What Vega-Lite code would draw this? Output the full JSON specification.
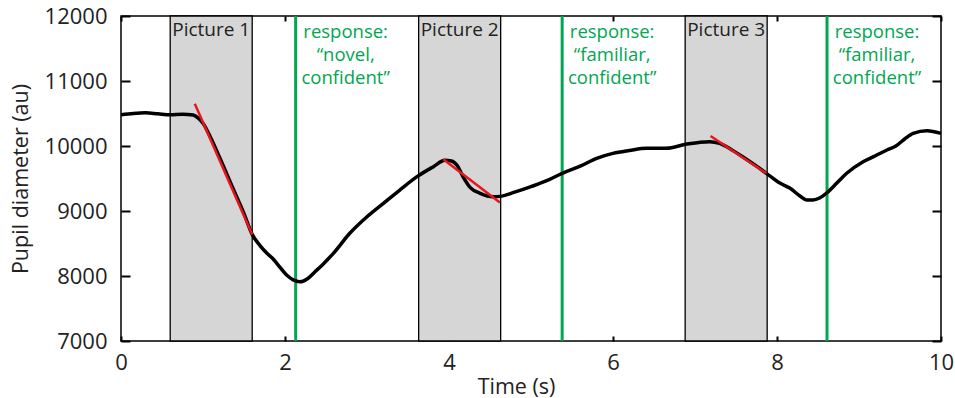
{
  "$schema": "https://vega.github.io/schema/vega-lite/v6.json",
  "width": 820,
  "height": 325,
  "autosize": "none",
  "padding": {"left": 121, "top": 16, "right": 14, "bottom": 57},
  "background": "white",
  "config": {
    "font": "Open Sans",
    "view": {"stroke": "black", "strokeWidth": 1.5},
    "axis": {"grid": false, "domain": false, "labelFlush": false, "labelFont": "Open Sans", "titleFont": "Open Sans", "labelColor": "#222", "titleColor": "#222", "tickColor": "black", "tickWidth": 2}
  },
  "datasets": {
    "curve": [
      {"t": 0.00, "v": 10480}, {"t": 0.15, "v": 10500}, {"t": 0.30, "v": 10510}, {"t": 0.45, "v": 10495},
      {"t": 0.60, "v": 10480}, {"t": 0.75, "v": 10490}, {"t": 0.88, "v": 10477}, {"t": 0.95, "v": 10420},
      {"t": 1.00, "v": 10350}, {"t": 1.10, "v": 10110}, {"t": 1.20, "v": 9830}, {"t": 1.30, "v": 9540},
      {"t": 1.40, "v": 9250}, {"t": 1.50, "v": 8960}, {"t": 1.60, "v": 8640}, {"t": 1.70, "v": 8460},
      {"t": 1.78, "v": 8350}, {"t": 1.85, "v": 8270}, {"t": 1.90, "v": 8195}, {"t": 2.02, "v": 8015},
      {"t": 2.10, "v": 7940}, {"t": 2.18, "v": 7910}, {"t": 2.27, "v": 7955}, {"t": 2.37, "v": 8070},
      {"t": 2.47, "v": 8190}, {"t": 2.59, "v": 8349}, {"t": 2.79, "v": 8657}, {"t": 3.00, "v": 8912},
      {"t": 3.20, "v": 9118}, {"t": 3.40, "v": 9323}, {"t": 3.61, "v": 9528}, {"t": 3.81, "v": 9682},
      {"t": 3.95, "v": 9780}, {"t": 4.03, "v": 9770}, {"t": 4.10, "v": 9700},
      {"t": 4.17, "v": 9530}, {"t": 4.26, "v": 9360}, {"t": 4.38, "v": 9272}, {"t": 4.54, "v": 9220},
      {"t": 4.62, "v": 9225}, {"t": 4.80, "v": 9290}, {"t": 5.00, "v": 9375}, {"t": 5.20, "v": 9470},
      {"t": 5.38, "v": 9580}, {"t": 5.60, "v": 9690}, {"t": 5.80, "v": 9810}, {"t": 6.00, "v": 9887},
      {"t": 6.20, "v": 9930}, {"t": 6.41, "v": 9964}, {"t": 6.65, "v": 9964}, {"t": 6.90, "v": 10030},
      {"t": 7.05, "v": 10055}, {"t": 7.18, "v": 10066}, {"t": 7.30, "v": 10040}, {"t": 7.45, "v": 9940},
      {"t": 7.60, "v": 9820}, {"t": 7.75, "v": 9690}, {"t": 7.87, "v": 9580}, {"t": 8.04, "v": 9426},
      {"t": 8.16, "v": 9349}, {"t": 8.28, "v": 9230}, {"t": 8.36, "v": 9170}, {"t": 8.44, "v": 9170},
      {"t": 8.52, "v": 9200}, {"t": 8.61, "v": 9282}, {"t": 8.73, "v": 9430}, {"t": 8.85, "v": 9580},
      {"t": 9.05, "v": 9758}, {"t": 9.20, "v": 9850}, {"t": 9.34, "v": 9938}, {"t": 9.45, "v": 10000},
      {"t": 9.55, "v": 10100}, {"t": 9.66, "v": 10195}, {"t": 9.83, "v": 10235}, {"t": 10.00, "v": 10195}
    ],
    "pictures": [
      {"start": 0.60, "end": 1.60, "label": "Picture 1"},
      {"start": 3.63, "end": 4.63, "label": "Picture 2"},
      {"start": 6.88, "end": 7.88, "label": "Picture 3"}
    ],
    "responses": [
      {"t": 2.13, "l1": "response:", "l2": "“novel,", "l3": "confident”"},
      {"t": 5.38, "l1": "response:", "l2": "“familiar,", "l3": "confident”"},
      {"t": 8.61, "l1": "response:", "l2": "“familiar,", "l3": "confident”"}
    ],
    "slopes": [
      {"seg": 1, "t": 0.90, "v": 10650}, {"seg": 1, "t": 1.60, "v": 8640},
      {"seg": 2, "t": 3.93, "v": 9795}, {"seg": 2, "t": 4.62, "v": 9130},
      {"seg": 3, "t": 7.19, "v": 10154}, {"seg": 3, "t": 7.87, "v": 9580}
    ]
  },
  "resolve": {"axis": {"x": "independent", "y": "independent"}},
  "layer": [
    {
      "data": {"name": "pictures"},
      "mark": {"type": "rect", "fill": "#d6d6d6", "stroke": "black", "strokeWidth": 1.3},
      "encoding": {
        "x": {"field": "start", "type": "quantitative", "scale": {"domain": [0, 10], "nice": false, "zero": false},
          "axis": {"orient": "bottom", "title": "Time (s)", "format": "d", "values": [0, 2, 4, 6, 8, 10], "tickSize": -5, "labelPadding": 16, "labelFontSize": 22, "titleFontSize": 21.5, "titleFontWeight": "normal", "titleX": 395, "titlePadding": 3}},
        "x2": {"field": "end"},
        "y": {"datum": 7000, "type": "quantitative", "scale": {"domain": [7000, 12000], "nice": false, "zero": false},
          "axis": {"orient": "left", "title": "Pupil diameter (au)", "format": "d", "values": [7000, 8000, 9000, 10000, 11000, 12000], "tickSize": -9, "labelPadding": 23, "labelFontSize": 22, "titleFontSize": 21.5, "titleFontWeight": "normal", "titlePadding": 12}},
        "y2": {"datum": 12000}
      }
    },
    {
      "data": {"name": "responses"},
      "mark": {"type": "rule", "color": "#00a651", "strokeWidth": 3},
      "encoding": {
        "x": {"field": "t", "type": "quantitative", "axis": {"orient": "top", "title": null, "values": [0, 2, 4, 6, 8, 10], "labels": false, "tickSize": -5}},
        "y": {"datum": 7000, "type": "quantitative", "axis": {"orient": "right", "title": null, "values": [7000, 8000, 9000, 10000, 11000, 12000], "labels": false, "tickSize": -9}},
        "y2": {"datum": 12000}
      }
    },
    {
      "data": {"name": "curve"},
      "mark": {"type": "line", "color": "black", "strokeWidth": 3.5, "interpolate": "monotone"},
      "encoding": {
        "x": {"field": "t", "type": "quantitative", "axis": null},
        "y": {"field": "v", "type": "quantitative", "axis": null}
      }
    },
    {
      "data": {"name": "slopes"},
      "mark": {"type": "line", "color": "#e8151b", "strokeWidth": 2.5},
      "encoding": {
        "x": {"field": "t", "type": "quantitative", "axis": null},
        "y": {"field": "v", "type": "quantitative", "axis": null},
        "detail": {"field": "seg"}
      }
    },
    {
      "data": {"name": "pictures"},
      "mark": {"type": "text", "fontSize": 19, "color": "#222", "align": "center", "baseline": "alphabetic", "dx": 41},
      "encoding": {
        "x": {"field": "start", "type": "quantitative", "axis": null},
        "y": {"datum": 11690, "type": "quantitative", "axis": null},
        "text": {"field": "label"}
      }
    },
    {
      "data": {"name": "responses"},
      "mark": {"type": "text", "fontSize": 18.5, "color": "#00a651", "align": "center", "baseline": "alphabetic", "dx": 50},
      "encoding": {
        "x": {"field": "t", "type": "quantitative", "axis": null},
        "y": {"datum": 11665, "type": "quantitative", "axis": null},
        "text": {"field": "l1"}
      }
    },
    {
      "data": {"name": "responses"},
      "mark": {"type": "text", "fontSize": 18.5, "color": "#00a651", "align": "center", "baseline": "alphabetic", "dx": 50, "dy": 23},
      "encoding": {
        "x": {"field": "t", "type": "quantitative", "axis": null},
        "y": {"datum": 11665, "type": "quantitative", "axis": null},
        "text": {"field": "l2"}
      }
    },
    {
      "data": {"name": "responses"},
      "mark": {"type": "text", "fontSize": 18.5, "color": "#00a651", "align": "center", "baseline": "alphabetic", "dx": 50, "dy": 46},
      "encoding": {
        "x": {"field": "t", "type": "quantitative", "axis": null},
        "y": {"datum": 11665, "type": "quantitative", "axis": null},
        "text": {"field": "l3"}
      }
    }
  ]
}
